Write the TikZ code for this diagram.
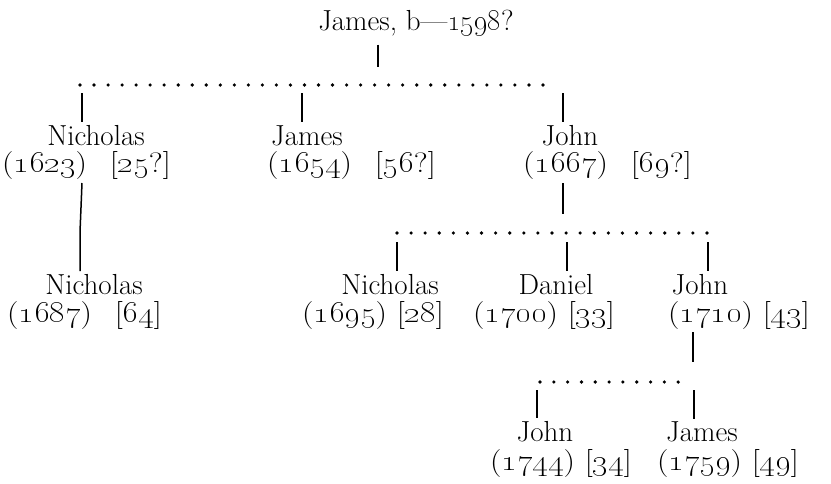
\documentclass[tikz,border=0pt]{standalone}
\newcommand{\osn}[1]{\oldstylenums{#1}}
\newcommand{\wdate}[1]{\scalebox{1.15}[1]{#1}}
\begin{document}
\begin{tikzpicture}[x=1pt,y=-1pt,
  every node/.style={inner xsep=1.5pt,inner ysep=0.5pt,font=\fontsize{29}{32}\selectfont},
  pname/.style={anchor=base},
  pdate/.style={anchor=base west,inner sep=0pt,font=\fontsize{28}{30}\selectfont},
  stem/.style={line width=1.5pt},
  dotrow/.style={line width=3.6pt,line cap=round,dash pattern=on 0pt off #1}]
\useasboundingbox (0,0) rectangle (831,483);
% root
\node[pname] (root) at (416,30) {James, b---\osn{1598}?};
\coordinate (r1) at (378,67);
\draw[stem] (root.south -| r1) ++(0,8) -- (r1);
% generation 1
\coordinate (g1a) at (80,85);
\coordinate (g1b) at (557,85);
\draw[dotrow=14.03pt] (g1a) -- (g1b);
\node[pname] (n1) at (96,145) {Nicholas};
\node[pdate] (d1) at (2,172) {\wdate{(\osn{1623})\hspace{0.71em}[\osn{25}?]}};
\node[pname] (n2) at (307,145) {James};
\node[pdate] (d2) at (267,172) {\wdate{(\osn{1654})\hspace{0.71em}[\osn{56}?]}};
\node[pname] (n3) at (570,145) {John};
\node[pdate] (d3) at (523,172) {\wdate{(\osn{1667})\hspace{0.71em}[\osn{69}?]}};
\coordinate (t1) at (82,93);
\coordinate (t2) at (302,93);
\coordinate (t3) at (563,93);
\draw[stem] (t1) -- ([yshift=2pt]t1 |- n1.north);
\draw[stem] (t2) -- ([yshift=2pt]t2 |- n2.north);
\draw[stem] (t3) -- ([yshift=2pt]t3 |- n3.north);
% generation 2
\node[pname] (m1) at (94,294) {Nicholas};
\node[pdate] (e1) at (7,322) {\wdate{(\osn{1687})\hspace{0.71em}[\osn{64}]}};
\coordinate (c1a) at (82,183);
\coordinate (c1b) at (80,232);
\draw[stem] (c1a) -- (c1b) -- ([yshift=2pt]c1b |- m1.north);
\coordinate (s3a) at (563,183);
\coordinate (s3b) at (563,214);
\draw[stem] (s3a) -- (s3b);
\coordinate (g2a) at (397,233);
\coordinate (g2b) at (707,233);
\draw[dotrow=14.09pt] (g2a) -- (g2b);
\node[pname] (m2) at (390,294) {Nicholas};
\node[pdate] (e2) at (302,322) {\wdate{(\osn{1695}) [\osn{28}]}};
\node[pname] (m3) at (556,294) {Daniel};
\node[pdate] (e3) at (473,322) {\wdate{(\osn{1700}) [\osn{33}]}};
\node[pname] (m4) at (700,294) {John};
\node[pdate] (e4) at (668,322) {\wdate{(\osn{1710}) [\osn{43}]}};
\coordinate (u2) at (397,242);
\coordinate (u3) at (567,242);
\coordinate (u4) at (708,242);
\draw[stem] (u2) -- ([yshift=2pt]u2 |- m2.north);
\draw[stem] (u3) -- ([yshift=2pt]u3 |- m3.north);
\draw[stem] (u4) -- ([yshift=2pt]u4 |- m4.north);
% generation 3
\coordinate (s4a) at (693,332);
\coordinate (s4b) at (693,362);
\draw[stem] (s4a) -- (s4b);
\coordinate (g3a) at (540,382);
\coordinate (g3b) at (692,382);
\draw[dotrow=13.82pt] (g3a) -- (g3b);
\node[pname] (k1) at (545,441) {John};
\node[pdate] (f1) at (490,470) {\wdate{(\osn{1744}) [\osn{34}]}};
\node[pname] (k2) at (702,441) {James};
\node[pdate] (f2) at (657,470) {\wdate{(\osn{1759}) [\osn{49}]}};
\coordinate (v1) at (537,390);
\coordinate (v2) at (694,390);
\draw[stem] (v1) -- ([yshift=2pt]v1 |- k1.north);
\draw[stem] (v2) -- ([yshift=2pt]v2 |- k2.north);
\end{tikzpicture}
\end{document}
